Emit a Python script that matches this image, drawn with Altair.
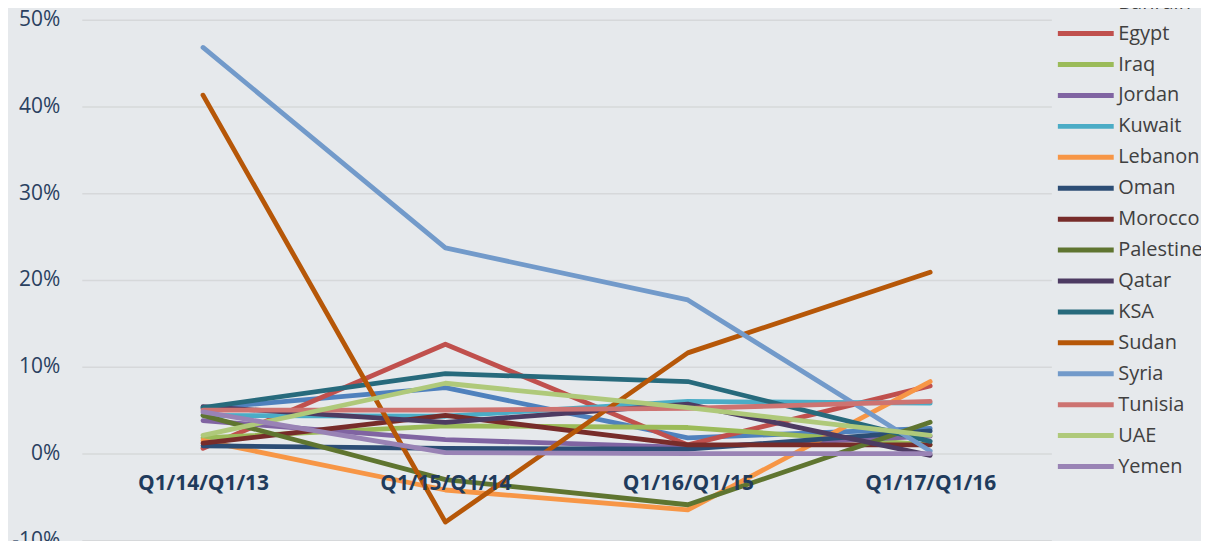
import altair as alt
import pandas as pd

periods = ["Q1/14/Q1/13", "Q1/15/Q1/14", "Q1/16/Q1/15", "Q1/17/Q1/16"]
countries = ["Bahrain", "Egypt", "Iraq", "Jordan", "Kuwait", "Lebanon", "Oman",
             "Morocco", "Palestine", "Qatar", "KSA", "Sudan", "Syria", "Tunisia",
             "UAE", "Yemen"]
colors = ["#4F81BD", "#C0504D", "#9BBB59", "#8064A2", "#4BACC6", "#F79646",
          "#2C4D75", "#772C2A", "#5F7530", "#4D3B62", "#276A7C", "#B65708",
          "#729ACA", "#CD7371", "#AFC97A", "#9983B5"]

# growth rates in percent, one value per period
bahrain = [5.2, 7.6, 1.8, 2.9]
egypt = [0.6, 12.6, 1.0, 7.8]
iraq = [1.8, 3.2, 3.0, 1.0]
jordan = [3.8, 1.6, 0.7, 2.0]
kuwait = [4.4, 4.3, 6.0, 5.8]
lebanon = [1.5, -4.2, -6.5, 8.3]
oman = [0.9, 0.6, 0.5, 2.6]
morocco = [1.2, 4.4, 1.0, 1.0]
palestine = [4.4, -3.0, -5.9, 3.6]
qatar = [5.4, 3.6, 5.7, -0.2]
ksa = [5.3, 9.2, 8.3, 1.4]
sudan = [41.3, -7.9, 11.6, 20.9]
syria = [46.8, 23.7, 17.7, 0.3]
tunisia = [5.0, 5.0, 5.2, 6.0]
uae = [2.1, 8.1, 5.3, 2.1]
yemen = [4.8, 0.1, 0.0, 0.0]

series = [bahrain, egypt, iraq, jordan, kuwait, lebanon, oman, morocco,
          palestine, qatar, ksa, sudan, syria, tunisia, uae, yemen]

rows = []
for ci, (name, vals) in enumerate(zip(countries, series)):
    for p, v in zip(periods, vals):
        rows.append({"country": name, "period": p, "value": v / 100.0, "ord": ci})
df = pd.DataFrame(rows)

chart = alt.Chart(df).mark_line(
    strokeWidth=4.8, strokeCap="round", strokeJoin="round"
).encode(
    x=alt.X("period:N", sort=periods,
            scale=alt.Scale(domain=periods, padding=0.5),
            axis=alt.Axis(title=None, labelAngle=0, domain=False, ticks=False,
                          grid=False, offset=-87, labelPadding=19,
                          labelFont="Open Sans", labelFontSize=21,
                          labelFontWeight="bold", labelColor="#1F3B5C",
                          zindex=1)),
    y=alt.Y("value:Q",
            scale=alt.Scale(domain=[-0.1, 0.5], nice=False, zero=False),
            axis=alt.Axis(title=None, values=[-0.1, 0, 0.1, 0.2, 0.3, 0.4, 0.5],
                          labelExpr="(datum.value < 0 ? '-' : '') + format(abs(datum.value), '.0%')",
                          domain=False, ticks=False, labelPadding=22,
                          labelFont="Open Sans", labelFontSize=21,
                          labelColor="#2A4160", gridColor="#D6D8DA",
                          gridWidth=1.5)),
    color=alt.Color("country:N",
                    scale=alt.Scale(domain=countries, range=colors),
                    legend=alt.Legend(title=None, orient="none", legendX=976,
                                      legendY=-29, symbolType="stroke",
                                      symbolSize=3136, symbolStrokeWidth=5,
                                      clipHeight=24, rowPadding=7,
                                      labelFont="Open Sans", labelFontSize=20,
                                      labelColor="#404040", labelOffset=2,
                                      labelLimit=200, padding=0)),
    order=alt.Order("ord:Q"),
).properties(
    width=972, height=522,
    autosize=alt.AutoSizeParams(type="none"),
    padding={"left": 74, "top": 11, "right": 150, "bottom": 0},
    background="#E6E9EC",
).configure_view(stroke=None)

chart.save("out.html", embed_options={"renderer": "svg", "actions": False})
